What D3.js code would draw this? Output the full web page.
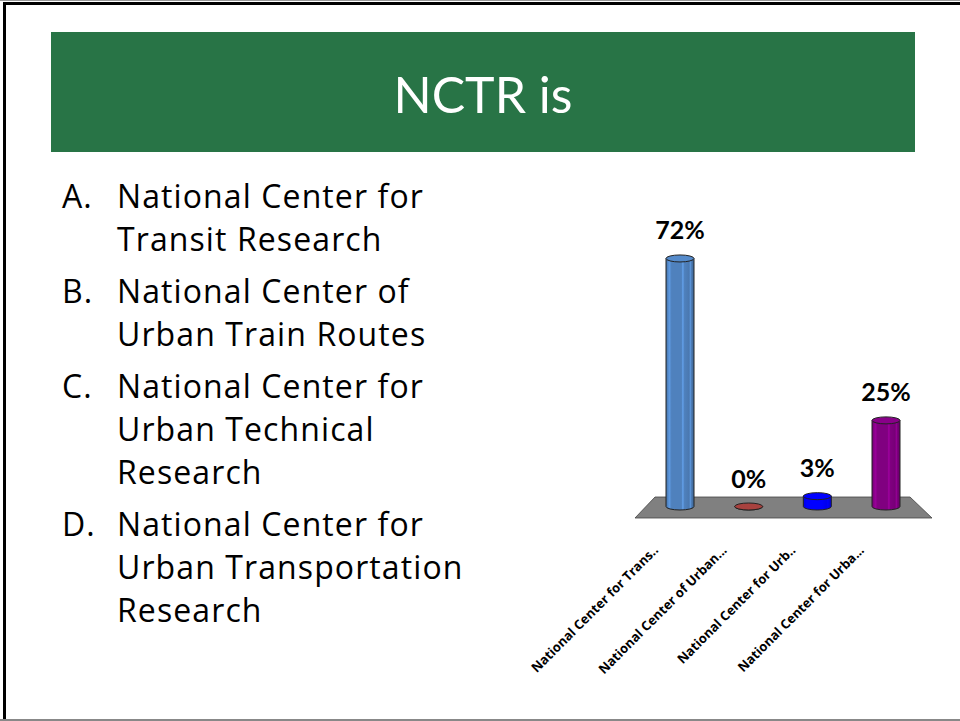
<!DOCTYPE html>
<html>
<head>
<meta charset="utf-8">
<script src="https://cdn.jsdelivr.net/npm/d3@7"></script>
<style>
  body { margin: 0; background: #fff; }
  svg { display: block; }
  text { font-variant-ligatures: none; }
</style>
</head>
<body>
<div id="slide"></div>
<script>
// slide content
const title = "NCTR is";
const letters = ["A.", "B.", "C.", "D."];
const answers = [
  ["National Center for", "Transit Research"],
  ["National Center of", "Urban Train Routes"],
  ["National Center for", "Urban Technical", "Research"],
  ["National Center for", "Urban Transportation", "Research"]
];

// chart data
const categories = ["National Center for Trans..", "National Center of Urban...", "National Center for Urb..", "National Center for Urba..."];
const percents = [72, 0, 3, 25];
const colors = ["#4f81bd", "#a8423f", "#0000ff", "#800080"];

drawSlide(d3.select("#slide"));

function drawSlide(div)
{
  const width = 960, height = 721;

  const svg = div.append("svg")
    .attr("width", width)
    .attr("height", height);

  // slide frame
  svg.append("line").attr("x1", 0).attr("x2", width).attr("y1", 0.5).attr("y2", 0.5)
    .attr("stroke", "#999").attr("stroke-width", 1);
  svg.append("line").attr("x1", 3).attr("x2", width).attr("y1", 3.5).attr("y2", 3.5)
    .attr("stroke", "#000").attr("stroke-width", 3);
  svg.append("line").attr("x1", 4.5).attr("x2", 4.5).attr("y1", 2).attr("y2", height)
    .attr("stroke", "#000").attr("stroke-width", 3);
  svg.append("line").attr("x1", 0).attr("x2", width).attr("y1", 720).attr("y2", 720)
    .attr("stroke", "#888").attr("stroke-width", 2);

  // title bar
  svg.append("rect")
    .attr("x", 51).attr("y", 32)
    .attr("width", 864).attr("height", 120)
    .attr("fill", "#287446");

  svg.append("text")
    .attr("x", 483)
    .attr("y", 113)
    .attr("text-anchor", "middle")
    .attr("font-family", "Lato, sans-serif")
    .attr("font-size", 50)
    .attr("fill", "#fff")
    .text(title);

  // answer list
  const list = svg.append("g")
    .attr("font-family", "'Open Sans', sans-serif")
    .attr("font-size", 32)
    .attr("letter-spacing", 1.1)
    .attr("fill", "#000");

  let y = 208;
  answers.forEach((lines, i) => {
    list.append("text").attr("x", 62).attr("y", y).text(letters[i]);
    lines.forEach((t, j) => {
      list.append("text").attr("x", 117).attr("y", y + j * 43).text(t);
    });
    y += (lines.length - 1) * 43 + 52;
  });

  chart(svg);
}

function chart(svg)
{
  const x = d3.scalePoint()
    .domain(categories)
    .range([680, 886]);

  const yScale = d3.scaleLinear()
    .domain([0, 100])
    .range([506.5, 162]);

  const rx = 14, ry = 3.5;

  // gradients for the cylinder shading
  const defs = svg.append("defs");
  colors.forEach((c, i) => {
    const base = d3.color(c);
    const grad = defs.append("linearGradient")
      .attr("id", "cyl" + i)
      .attr("x1", 0).attr("x2", 1).attr("y1", 0).attr("y2", 0);
    const stops = [
      [0, base.darker(0.4)],
      [0.12, base.brighter(0.5)],
      [0.2, base],
      [0.55, base],
      [0.6, base.brighter(0.6)],
      [0.66, base],
      [0.82, base.darker(0.2)],
      [0.88, base.brighter(0.4)],
      [0.92, base.darker(0.3)],
      [1, base.darker(0.5)]
    ];
    grad.selectAll("stop")
      .data(stops)
      .join("stop")
        .attr("offset", d => d[0])
        .attr("stop-color", d => d[1]);
  });

  // floor
  const first = x(categories[0]), last = x(categories[categories.length - 1]);
  svg.append("path")
    .attr("d", `M${first - 25},497 L${last + 24},497 L${last + 46},518 L${first - 45},518 Z`)
    .attr("fill", "#808080")
    .attr("stroke", "#444")
    .attr("stroke-width", 0.8);

  const data = categories.map((c, i) => ({cat: c, value: percents[i], i: i}));

  const bars = svg.append("g")
    .selectAll("g")
    .data(data)
    .join("g");

  // body
  bars.append("path")
    .attr("d", d => {
      const cx = x(d.cat), yb = yScale(0), yt = yScale(d.value);
      return `M${cx - rx},${yt} L${cx - rx},${yb} A${rx},${ry} 0 0 0 ${cx + rx},${yb} L${cx + rx},${yt} Z`;
    })
    .attr("fill", d => `url(#cyl${d.i})`)
    .attr("stroke", "#222")
    .attr("stroke-width", 1);

  // top cap
  bars.append("ellipse")
    .attr("cx", d => x(d.cat))
    .attr("cy", d => yScale(d.value))
    .attr("rx", rx)
    .attr("ry", ry)
    .attr("fill", d => d3.color(colors[d.i]).brighter(d.value > 0 ? 0.2 : 0))
    .attr("stroke", "#222")
    .attr("stroke-width", 1);

  // value labels
  svg.append("g")
    .attr("font-family", "Lato, sans-serif")
    .attr("font-weight", "bold")
    .attr("font-size", 25)
    .attr("text-anchor", "middle")
    .selectAll("text")
    .data(data)
    .join("text")
      .attr("x", d => x(d.cat))
      .attr("y", d => yScale(d.value) - 19)
      .text(d => d.value + "%");

  // category labels
  svg.append("g")
    .attr("font-family", "'Open Sans', sans-serif")
    .attr("font-weight", "bold")
    .attr("font-size", 13)
    .attr("text-anchor", "end")
    .selectAll("text")
    .data(data)
    .join("text")
      .attr("transform", d => `translate(${x(d.cat) - 21},551) rotate(-45)`)
      .text(d => d.cat);
}
</script>
</body>
</html>
